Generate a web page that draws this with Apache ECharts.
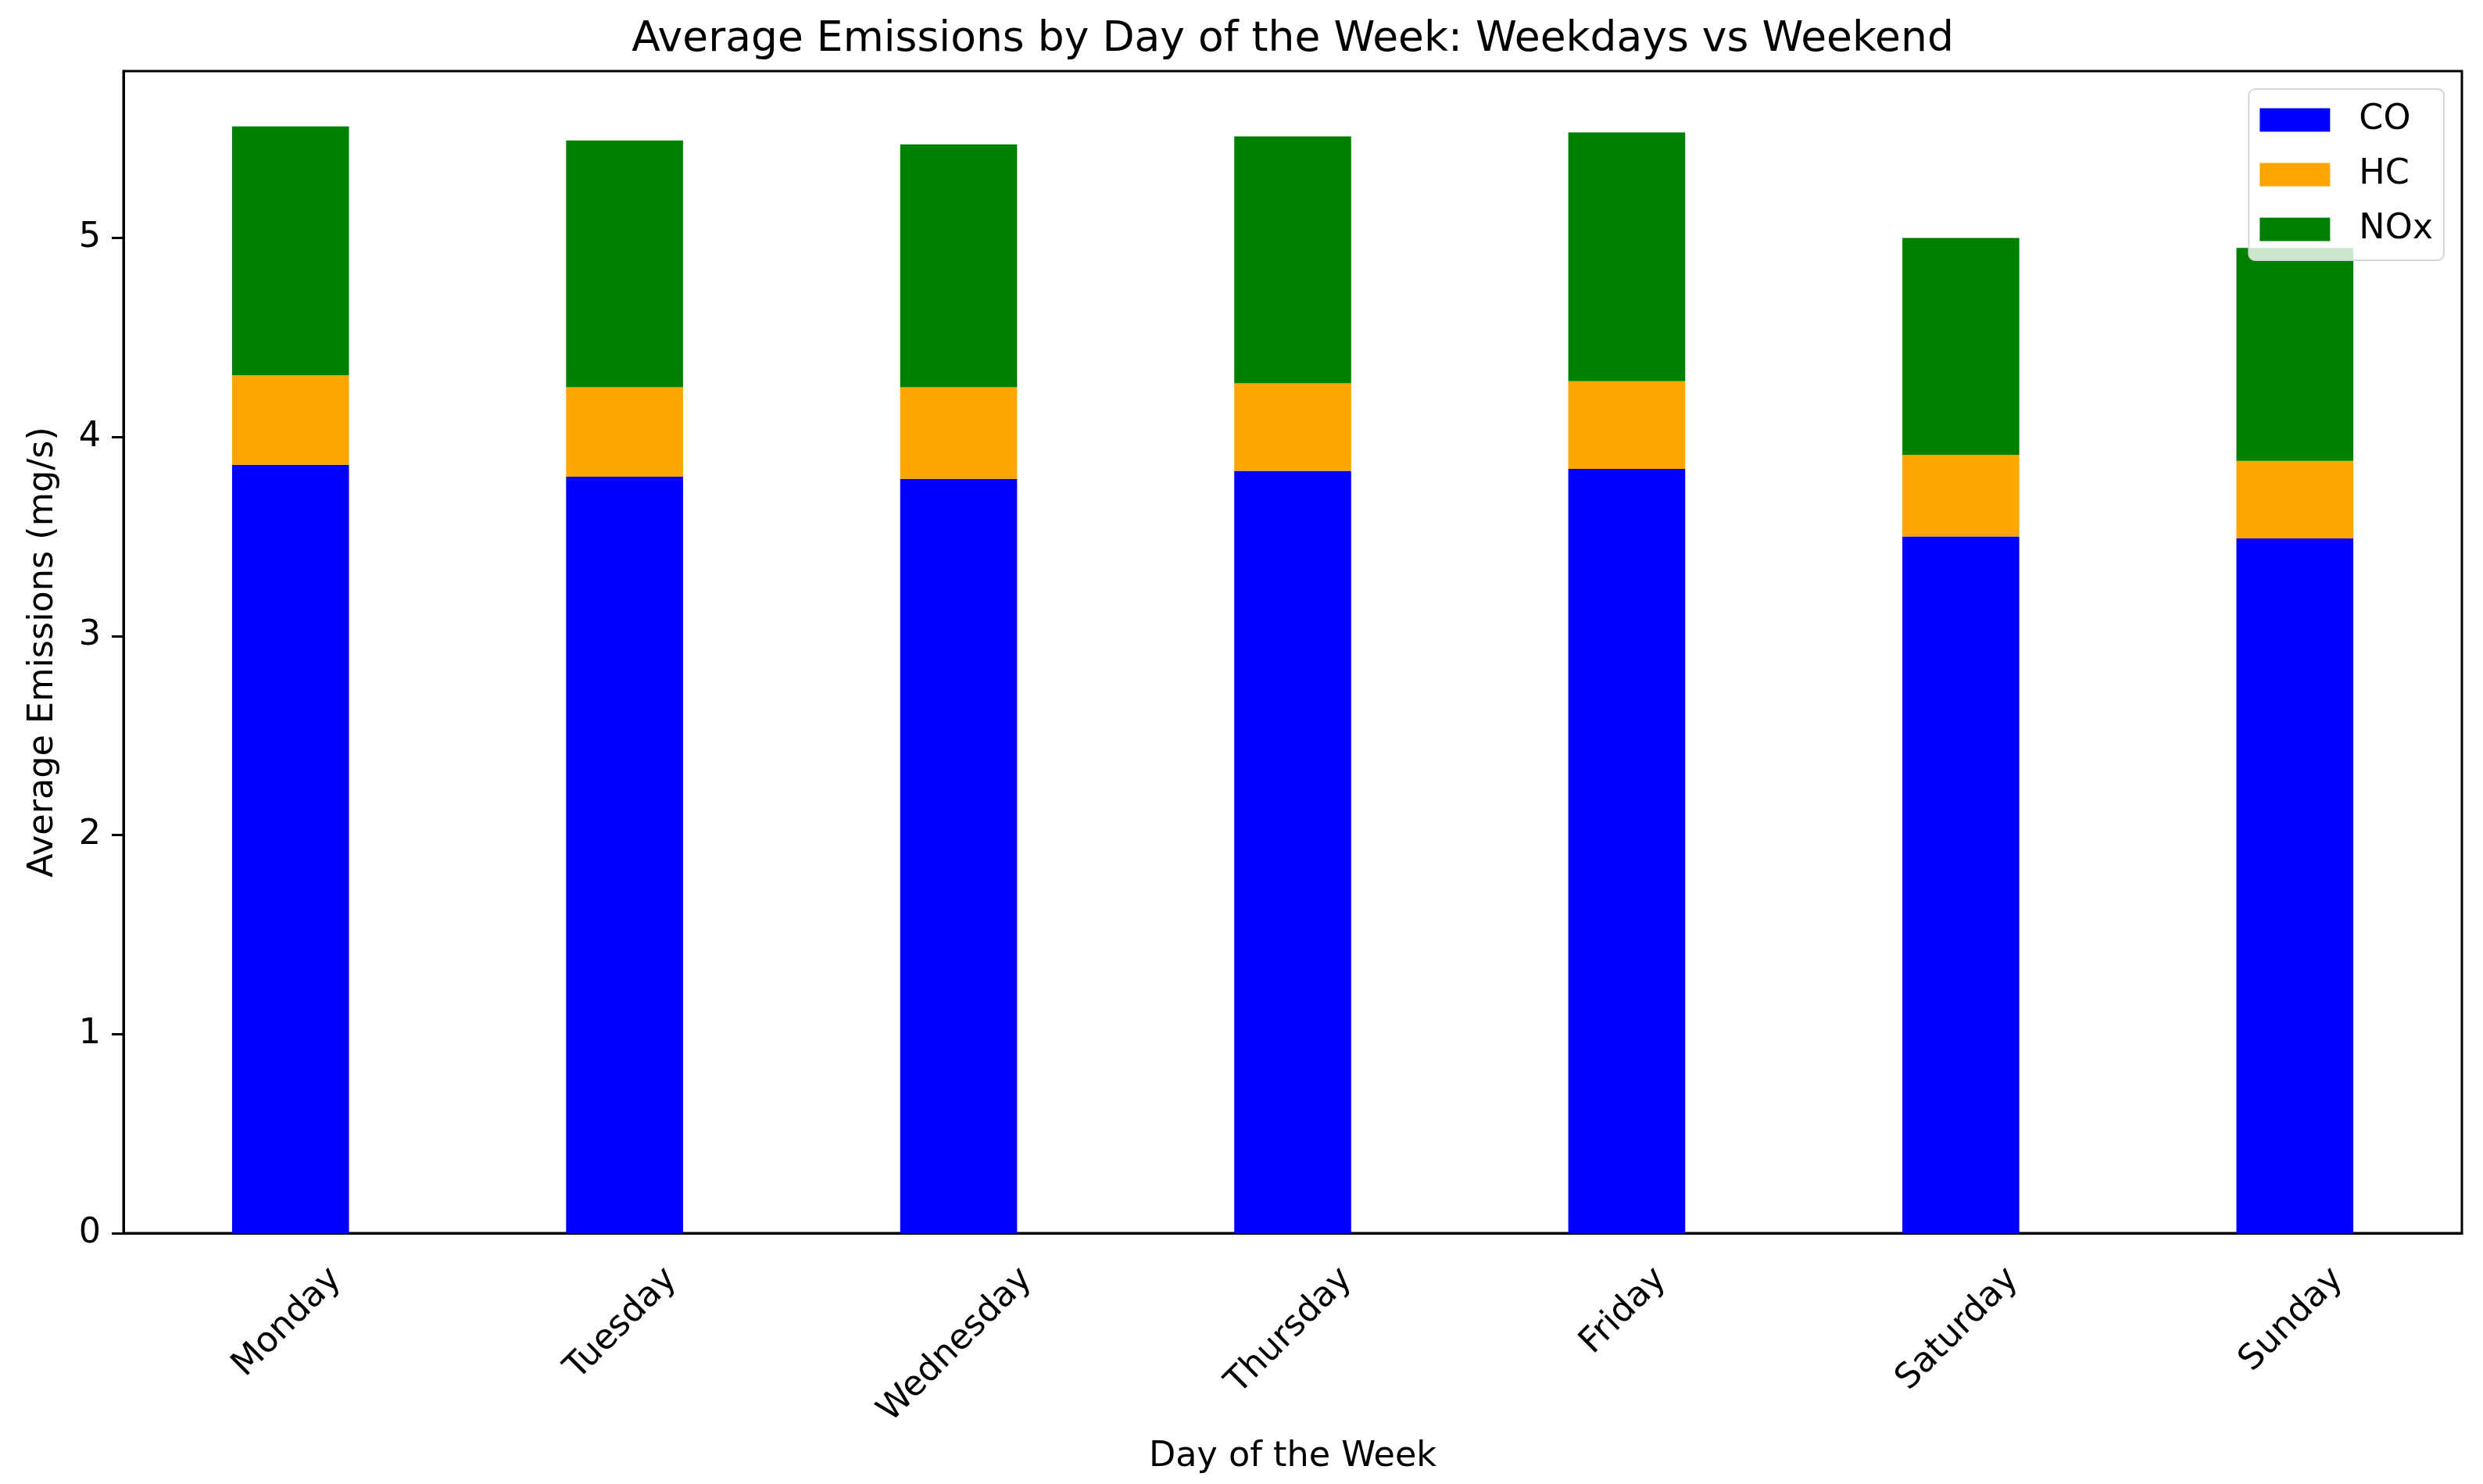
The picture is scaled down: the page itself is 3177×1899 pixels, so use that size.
<!DOCTYPE html>
<html>
<head>
<meta charset="utf-8">
<title>Average Emissions by Day of the Week</title>
<script src="https://cdn.jsdelivr.net/npm/echarts@6/dist/echarts.min.js"></script>
<style>
    html, body { margin: 0; padding: 0; background: #fff; }
    #chart { width: 3177px; height: 1899px; }
</style>
</head>
<body>
<div id="chart"></div>
<script>
// 数据 - 每天的平均排放量 (mg/s)
const days = ['Monday', 'Tuesday', 'Wednesday', 'Thursday', 'Friday', 'Saturday', 'Sunday'];
const coValues = [3.86, 3.80, 3.79, 3.83, 3.84, 3.50, 3.49];
const hcValues = [0.45, 0.45, 0.46, 0.44, 0.44, 0.41, 0.39];
const noxValues = [1.25, 1.24, 1.22, 1.24, 1.25, 1.09, 1.07];
const yTicks = [0, 1, 2, 3, 4, 5];

const FONT = 'DejaVu Sans';
const FS = 44.5;          // 刻度/轴标题字号
const TITLE_FS = 53.5;    // 标题字号
const TITLE_TEXT = 'Average Emissions by Day of the Week: Weekdays vs Weekend';

const GRID_LEFT = 158;
const GRID_RIGHT = 27;

const chart = echarts.init(document.getElementById('chart'));

// 测量文字宽度
const ctx = document.createElement('canvas').getContext('2d');
const measure = (text, size) => {
    ctx.font = size + 'px "' + FONT + '"';
    return ctx.measureText(text).width;
};

// 标题居中于绘图区
const plotCenter = (GRID_LEFT + (3177 - GRID_RIGHT)) / 2;
const titleLeft = plotCenter - measure(TITLE_TEXT, TITLE_FS) / 2;

const option = {
    backgroundColor: '#fff',
    animation: false,
    title: {
        text: TITLE_TEXT,
        left: titleLeft,
        top: 24,
        padding: 0,
        textStyle: { fontFamily: FONT, fontSize: TITLE_FS, fontWeight: 'normal', color: '#000' }
    },
    grid: {
        left: GRID_LEFT,
        right: GRID_RIGHT,
        top: 91,
        bottom: 321,
        show: true,
        borderColor: '#000',
        borderWidth: 3
    },
    legend: {
        data: ['CO', 'HC', 'NOx'],
        orient: 'vertical',
        right: 50,
        top: 114,
        itemWidth: 90,
        itemHeight: 30,
        itemGap: 25,
        icon: 'rect',
        padding: [17, 14, 17, 14],
        backgroundColor: 'rgba(255,255,255,0.8)',
        borderColor: '#d6d6d6',
        borderWidth: 2,
        borderRadius: 8,
        textStyle: { fontFamily: FONT, fontSize: FS, color: '#000', padding: [0, 0, 0, 32] }
    },
    xAxis: {
        type: 'category',
        data: days,
        name: 'Day of the Week',
        nameLocation: 'middle',
        nameGap: 264,
        nameTextStyle: { fontFamily: FONT, fontSize: FS, color: '#000' },
        axisLine: { lineStyle: { color: '#000', width: 3 } },
        axisTick: { alignWithLabel: true, length: 15, lineStyle: { color: '#000', width: 3 } },
        axisLabel: { show: false },
        splitLine: { show: false }
    },
    yAxis: {
        type: 'value',
        min: 0,
        max: 5.838,
        name: 'Average Emissions (mg/s)',
        nameLocation: 'middle',
        nameRotate: 90,
        nameGap: 80,
        nameTextStyle: { fontFamily: FONT, fontSize: FS, color: '#000' },
        axisLine: { show: true, lineStyle: { color: '#000', width: 3 } },
        axisTick: { show: true, length: 15, customValues: yTicks, lineStyle: { color: '#000', width: 3 } },
        axisLabel: { customValues: yTicks, margin: 29, fontFamily: FONT, fontSize: FS, color: '#000' },
        splitLine: { show: false }
    },
    series: [
        { name: 'CO', type: 'bar', stack: 'total', barWidth: '35%', data: coValues, itemStyle: { color: '#0000ff' } },
        { name: 'HC', type: 'bar', stack: 'total', barWidth: '35%', data: hcValues, itemStyle: { color: '#ffa500' } },
        { name: 'NOx', type: 'bar', stack: 'total', barWidth: '35%', data: noxValues, itemStyle: { color: '#008000' } }
    ]
};

chart.setOption(option);

// x轴标签: 45度旋转, 以刻度为中心 (类似 matplotlib)
const baseY = chart.convertToPixel({ yAxisIndex: 0 }, 0);
const labelEls = days.map((d) => {
    const x = chart.convertToPixel({ xAxisIndex: 0 }, d);
    const w = measure(d, FS);
    const h = FS * 1.164;
    const half = (w + h) * Math.SQRT1_2 / 2;
    return {
        type: 'text',
        x: x - 4,
        y: baseY + 34 + half,
        rotation: Math.PI / 4,
        style: {
            text: d,
            font: FS + 'px "' + FONT + '"',
            fill: '#000',
            align: 'center',
            verticalAlign: 'middle',
            textAlign: 'center',
            textVerticalAlign: 'middle'
        }
    };
});
chart.setOption({ graphic: labelEls });
</script>
</body>
</html>
